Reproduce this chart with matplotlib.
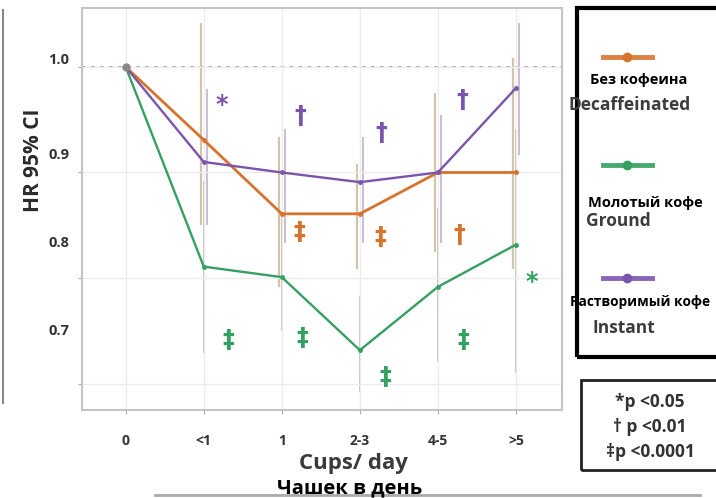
import numpy as np
import matplotlib
matplotlib.use("Agg")
import matplotlib.pyplot as plt
from matplotlib.patches import Rectangle
from matplotlib.lines import Line2D

plt.rcParams['font.family'] = ['Open Sans', 'DejaVu Sans']
plt.rcParams['font.weight'] = 'bold'

# Данные
cups = ["0", "<1", "1", "2-3", "4-5", ">5"]
decaf = [1.0, 0.917, 0.833, 0.833, 0.88, 0.88]
ground = [1.0, 0.773, 0.761, 0.678, 0.75, 0.798]
instant = [1.0, 0.892, 0.88, 0.869, 0.88, 0.976]

# 95% CI (для категорий <1 ... >5)
decaf_lo = [0.82, 0.75, 0.77, 0.79, 0.77]
decaf_hi = [1.05, 0.92, 0.89, 0.97, 1.01]
instant_lo = [0.82, 0.80, 0.80, 0.80, 0.90]
instant_hi = [0.975, 0.93, 0.92, 0.945, 1.05]
ground_lo = [0.675, 0.70, 0.63, 0.665, 0.652]
ground_hi = [0.87, 0.83, 0.74, 0.84, 0.93]

# значимость: (позиция x, y, символ)
instant_sig = [(1.23, 0.957, "*"), (2.24, 0.944, "†"), (3.28, 0.925, "†"), (4.31, 0.962, "†")]
decaf_sig = [(2.23, 0.812, "‡"), (3.26, 0.807, "‡"), (4.28, 0.809, "†")]
ground_sig = [(1.31, 0.69, "‡"), (2.26, 0.692, "‡"), (3.32, 0.647, "‡"), (4.32, 0.69, "‡"), (5.2, 0.756, "*")]

c_decaf = "#d8732e"
c_ground = "#34a061"
c_instant = "#7b55ad"

fig = plt.figure(figsize=(7.16, 4.98), dpi=100)
ax = fig.add_axes([82 / 716, 1 - 410 / 498, (562 - 82) / 716, (410 - 8) / 498])

x = np.arange(len(cups))
xc = x[1:]

# Доверительные интервалы
ax.vlines(xc - 0.04, decaf_lo, decaf_hi, color="#d2c4a8", lw=1.6, zorder=1)
ax.vlines(xc + 0.04, instant_lo, instant_hi, color="#c4b8d2", lw=1.3, zorder=1)
ax.vlines(xc, ground_lo, ground_hi, color="#b0b4a8", lw=1.1, zorder=1)

ax.axhline(1.0, color="#999999", ls=(0, (2, 3)), lw=1.3, zorder=0)

ax.plot(x, decaf, color=c_decaf, lw=2.0, marker="o", ms=2.5, zorder=3)
ax.plot(x, ground, color=c_ground, lw=1.7, marker="o", ms=2.5, zorder=3)
ax.plot(x, instant, color=c_instant, lw=1.7, marker="o", ms=2.5, zorder=3)
ax.plot([0], [1.0], marker="o", ms=5, color="#888888", zorder=4)

for sig, col in [(instant_sig, c_instant), (decaf_sig, c_decaf), (ground_sig, c_ground)]:
    for sx, sy, s in sig:
        ax.text(sx, sy, s, color=col, fontsize=17, fontweight="bold", ha="center", va="center",
                family=["DejaVu Sans"])

ax.set_xlim(-0.56, 5.59)
ax.set_ylim(0.610, 1.067)
ax.set_xticks(x)
ax.set_xticklabels(cups, fontsize=10, color="#333333")
ax.set_yticks([1.0, 0.88, 0.76, 0.64])
ax.set_yticklabels([])
ax.tick_params(length=3, color="#aaaaaa", pad=14)
for v in [1.0, 0.9, 0.8, 0.7]:
    ax.text(-0.86, v + 0.008 if v == 1.0 else v, f"{v:.1f}", fontsize=10.5, color="#333333",
            ha="center", va="center", fontweight="bold")
ax.grid(True, color="#ececec", lw=1)
for sp in ax.spines.values():
    sp.set_color("#c4c4c4")
    sp.set_linewidth(1.5)

ax.set_ylabel("HR 95% CI", fontsize=15, color="#2a2a2a", fontweight="bold")
ax.yaxis.set_label_coords(-0.08, 0.62)
fig.text(353 / 716, 1 - 463 / 498, "Cups/ day", fontsize=16, color="#3a3a3a",
         ha="center", va="center", fontweight="bold")
fig.text(350 / 716, 1 - 488 / 498, "Чашек в день", fontsize=14.5, color="black",
         ha="center", va="center", fontweight="bold")

# Легенда
fig.add_artist(Rectangle((577 / 716, 1 - 357 / 498), 0.3, (357 - 8) / 498,
                         transform=fig.transFigure, fill=False, ec="black", lw=3))
entries = [(c_decaf, 57, "Без кофеина", 590, 80, 10.5, "Decaffeinated", 569, 105),
           (c_ground, 165, "Молотый кофе", 588, 203, 10.5, "Ground", 586, 221),
           (c_instant, 278, "Растворимый кофе", 570, 302, 9.8, "Instant", 593, 328)]
for col, ly, ru, rx, ry, rs, en, ex, ey in entries:
    fig.add_artist(Line2D([603 / 716, 652 / 716], [1 - ly / 498] * 2, color=col, lw=3.5,
                          transform=fig.transFigure, alpha=0.9))
    fig.add_artist(Line2D([627 / 716], [1 - ly / 498], color=col, marker="o", ms=6,
                          transform=fig.transFigure))
    fig.text(rx / 716, 1 - ry / 498, ru, fontsize=rs, color="black", ha="left", va="center")
    fig.text(ex / 716, 1 - ey / 498, en, fontsize=12.5, color="#3c3c3c", ha="left", va="center")

fig.add_artist(Rectangle((581 / 716, 1 - 470 / 498), 0.3, (470 - 380) / 498,
                         transform=fig.transFigure, fill=False, ec="#222222", lw=2))
for txt, ty in [("*p <0.05", 402), ("† p <0.01", 427), ("‡p <0.0001", 452)]:
    fig.text(650 / 716, 1 - ty / 498, txt, fontsize=12.5, color="#333333", ha="center", va="center")

# Края соседних панелей
fig.add_artist(Line2D([3 / 716, 3 / 716], [1 - 10 / 498, 1 - 403 / 498], color="#888888",
                      lw=1.5, transform=fig.transFigure))
fig.add_artist(Line2D([155 / 716, 700 / 716], [1 - 495 / 498] * 2, color="#aaaaaa",
                      lw=2, transform=fig.transFigure))

fig.savefig("out.png", dpi=100)
